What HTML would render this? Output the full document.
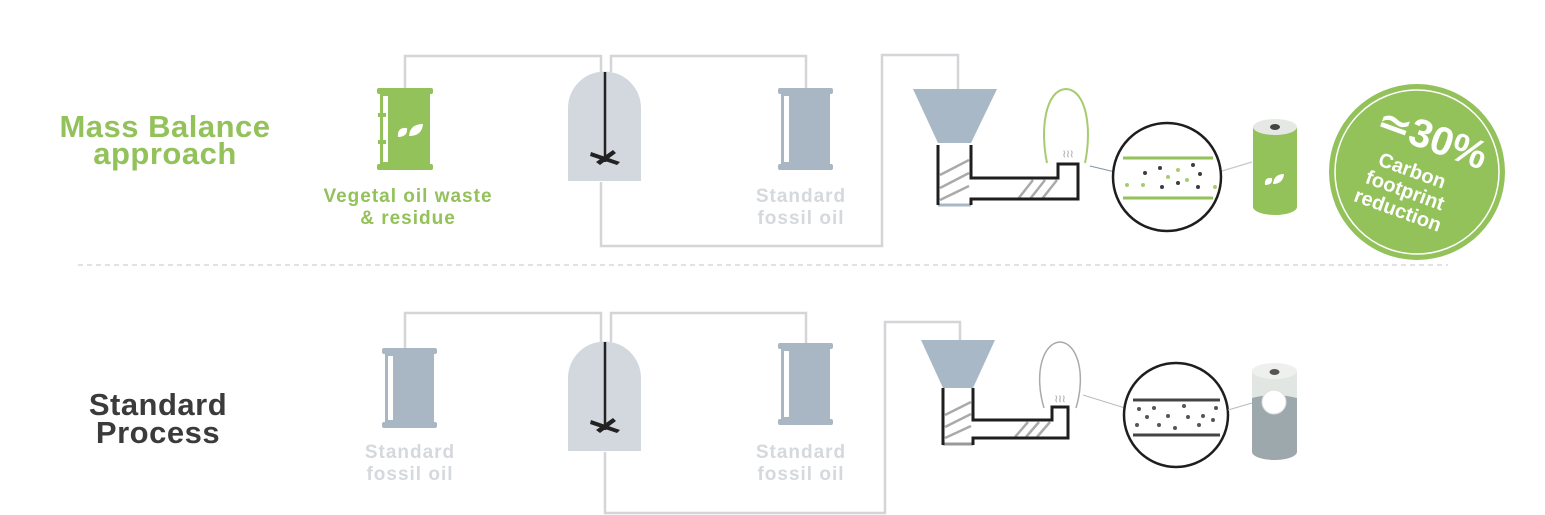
<!DOCTYPE html>
<html><head><meta charset="utf-8"><style>
html,body{margin:0;padding:0;background:#fff}
svg{display:block}
text{font-family:"Liberation Sans",sans-serif;font-weight:bold}
</style></head><body>
<svg width="1545" height="515" viewBox="0 0 1545 515" xmlns="http://www.w3.org/2000/svg">
<!-- titles -->
<g font-size="31" letter-spacing="0.5" text-anchor="middle">
<text x="165" y="137" fill="#93c15a">Mass Balance</text>
<text x="165" y="164" fill="#93c15a">approach</text>
<text x="158" y="415" fill="#3b3b3b">Standard</text>
<text x="158" y="443" fill="#3b3b3b">Process</text>
</g>

<line x1="78" y1="265" x2="1448" y2="265" stroke="#d6d9dc" stroke-width="1.5" stroke-dasharray="5,4"/>

<g fill="none" stroke="#d3d5d8" stroke-width="2.5">
<polyline points="405,88 405,56 601,56 601,72"/>
<polyline points="611,72 611,56 806,56 806,88"/>
<polyline points="601,182 601,246 882,246 882,55 958,55 958,90"/>
<polyline points="405,348 405,313 601,313 601,342"/>
<polyline points="611,342 611,313 806,313 806,343"/>
<polyline points="605,452 605,513 885,513 885,322 960,322 960,340"/>
</g>

<!-- barrels -->
<rect x="377" y="88" width="56" height="6" rx="2" fill="#93c15a"/>
<rect x="377" y="164" width="56" height="6" rx="2" fill="#93c15a"/>
<rect x="380" y="92" width="50" height="74" fill="#93c15a"/>
<rect x="383" y="96" width="5" height="66" fill="#fff"/>
<rect x="378" y="113" width="8" height="4" fill="#93c15a"/>
<rect x="378" y="140" width="8" height="4" fill="#93c15a"/>
<path d="M398 137 q-1 -10 9 -9 q1 9 -9 9z M409 136 q1 -12 14 -12 q-1 12 -14 12z" fill="#fff"/>

<g fill="#a9b6c4">
<rect x="778" y="88" width="55" height="6" rx="2"/><rect x="778" y="164" width="55" height="6" rx="2"/>
<rect x="781" y="92" width="49" height="74"/>
<rect x="382" y="348" width="55" height="6" rx="2"/><rect x="382" y="422" width="55" height="6" rx="2"/>
<rect x="385" y="352" width="49" height="72"/>
<rect x="778" y="343" width="55" height="6" rx="2"/><rect x="778" y="419" width="55" height="6" rx="2"/>
<rect x="781" y="347" width="49" height="74"/>
</g>
<g fill="#fff">
<rect x="784" y="96" width="5" height="66"/><rect x="388" y="356" width="5" height="64"/><rect x="784" y="351" width="5" height="66"/>
</g>

<!-- labels -->
<g font-size="19" letter-spacing="1" text-anchor="middle">
<text x="408" y="202" fill="#93c15a">Vegetal oil waste</text>
<text x="408" y="224" fill="#93c15a">&amp; residue</text>
<text x="801" y="202" fill="#d5d8dc">Standard</text>
<text x="801" y="224" fill="#d5d8dc">fossil oil</text>
<text x="410" y="458" fill="#d5d8dc">Standard</text>
<text x="410" y="480" fill="#d5d8dc">fossil oil</text>
<text x="801" y="458" fill="#d5d8dc">Standard</text>
<text x="801" y="480" fill="#d5d8dc">fossil oil</text>
</g>

<!-- reactors -->
<path d="M568 181 V108 A36.5 36.5 0 0 1 641 108 V181Z" fill="#d3d8df"/>
<line x1="605" y1="72" x2="605" y2="162" stroke="#222" stroke-width="2.5"/>
<path d="M591 152 L620 162 L617 165 L590 156Z M596 162 L613 150 L616 153 L600 165Z" fill="#222"/>
<path d="M568 451 V378 A36.5 36.5 0 0 1 641 378 V451Z" fill="#d3d8df"/>
<line x1="605" y1="342" x2="605" y2="430" stroke="#222" stroke-width="2.5"/>
<path d="M591 420 L620 430 L617 433 L590 424Z M596 430 L613 418 L616 421 L600 433Z" fill="#222"/>

<!-- top extruder -->
<path d="M913 89 H997 L971 143 H938Z" fill="#a9b8c6"/>
<g stroke="#aaa" stroke-width="2.5">
<line x1="940" y1="175" x2="969" y2="160"/><line x1="940" y1="188" x2="969" y2="173"/><line x1="940" y1="200" x2="969" y2="186"/>
<line x1="1018" y1="199" x2="1033" y2="180"/><line x1="1030" y1="199" x2="1045" y2="180"/><line x1="1042" y1="199" x2="1057" y2="180"/>
</g>
<line x1="938" y1="205" x2="971" y2="205" stroke="#a9b8c6" stroke-width="3"/>
<path d="M938 145 V205 M971 145 V178 H1058 V164 H1078 V199 H971 V205" fill="none" stroke="#1e1e1e" stroke-width="3"/>
<path d="M1047 163 C1040 130 1045 90 1066 89 C1087 90 1092 130 1085 163" fill="none" stroke="#a7cc6f" stroke-width="2"/>
<text x="1068" y="157" font-size="10" fill="#bbb" text-anchor="middle" font-weight="normal">≀≀≀</text>
<line x1="1090" y1="166" x2="1115" y2="172" stroke="#7d93a3" stroke-width="1"/>
<circle cx="1167" cy="177" r="54" fill="#fff" stroke="#1e1e1e" stroke-width="2.5"/>
<line x1="1123" y1="158" x2="1213" y2="158" stroke="#93c15a" stroke-width="3"/>
<line x1="1123" y1="198" x2="1213" y2="198" stroke="#93c15a" stroke-width="3"/>
<g fill="#3a3d44"><circle cx="1145" cy="173" r="2"/><circle cx="1160" cy="168" r="2"/><circle cx="1193" cy="165" r="2"/><circle cx="1200" cy="174" r="2"/><circle cx="1178" cy="183" r="2"/><circle cx="1162" cy="187" r="2"/><circle cx="1198" cy="187" r="2"/></g>
<g fill="#a7cc6f"><circle cx="1127" cy="185" r="2"/><circle cx="1143" cy="185" r="2"/><circle cx="1168" cy="177" r="2"/><circle cx="1178" cy="170" r="2"/><circle cx="1187" cy="180" r="2"/><circle cx="1215" cy="187" r="2"/></g>
<line x1="1222" y1="171" x2="1252" y2="162" stroke="#c5c9cc" stroke-width="1.2"/>
<path d="M1253 127 V207 A22 8 0 0 0 1297 207 V127Z" fill="#93c15a"/>
<ellipse cx="1275" cy="127" rx="22" ry="8" fill="#e6e8e6"/>
<ellipse cx="1275" cy="127" rx="5" ry="3" fill="#444"/>
<path d="M1265 185 q-1 -8 7 -7 q1 7 -7 7z M1273 184 q1 -10 11 -10 q-1 10 -11 10z" fill="#fff"/>

<!-- bottom extruder -->
<path d="M921 340 H995 L973 388 H943Z" fill="#a9b8c6"/>
<g stroke="#aaa" stroke-width="2.5">
<line x1="945" y1="415" x2="971" y2="402"/><line x1="945" y1="427" x2="971" y2="414"/><line x1="945" y1="438" x2="971" y2="426"/>
<line x1="1015" y1="437" x2="1028" y2="422"/><line x1="1026" y1="437" x2="1039" y2="422"/><line x1="1037" y1="437" x2="1050" y2="422"/>
</g>
<line x1="943" y1="444" x2="973" y2="444" stroke="#999" stroke-width="3"/>
<path d="M943 388 V445 M973 388 V420 H1052 V407 H1068 V438 H973 V445" fill="none" stroke="#1e1e1e" stroke-width="3"/>
<path d="M1044 408 C1034 375 1042 343 1060 342 C1078 343 1086 375 1076 408" fill="none" stroke="#aaa" stroke-width="1.5"/>
<text x="1060" y="402" font-size="10" fill="#bbb" text-anchor="middle" font-weight="normal">≀≀≀</text>
<line x1="1083" y1="395" x2="1125" y2="408" stroke="#bbb" stroke-width="1"/>
<circle cx="1176" cy="415" r="52" fill="#fff" stroke="#1e1e1e" stroke-width="2.5"/>
<line x1="1133" y1="400" x2="1220" y2="400" stroke="#444" stroke-width="3"/>
<line x1="1133" y1="435" x2="1220" y2="435" stroke="#444" stroke-width="3"/>
<g fill="#555"><circle cx="1139" cy="409" r="2"/><circle cx="1154" cy="408" r="2"/><circle cx="1184" cy="406" r="2"/><circle cx="1216" cy="408" r="2"/><circle cx="1147" cy="417" r="2"/><circle cx="1168" cy="416" r="2"/><circle cx="1188" cy="417" r="2"/><circle cx="1203" cy="416" r="2"/><circle cx="1213" cy="420" r="2"/><circle cx="1137" cy="425" r="2"/><circle cx="1159" cy="425" r="2"/><circle cx="1175" cy="428" r="2"/><circle cx="1199" cy="425" r="2"/></g>
<line x1="1228" y1="410" x2="1252" y2="403" stroke="#bbb" stroke-width="1"/>
<path d="M1252 371 V452 A22.5 8 0 0 0 1297 452 V371Z" fill="#9ca8ac"/>
<path d="M1252 371 V398 Q1274 392 1297 398 V371Z" fill="#e2e6e2"/>
<ellipse cx="1274.5" cy="371" rx="22.5" ry="8" fill="#eef0ee"/>
<ellipse cx="1274.5" cy="372" rx="5" ry="3" fill="#555"/>
<circle cx="1274" cy="402" r="12" fill="#fff" stroke="#ddd" stroke-width="1"/>

<!-- badge -->
<circle cx="1417" cy="172" r="88" fill="#93c15a"/>
<circle cx="1417" cy="172" r="82" fill="none" stroke="#fff" stroke-width="1.5"/>
<g transform="rotate(20 1417 172)" fill="#fff" text-anchor="middle">
<text x="1420" y="148" font-size="40">≃30%</text>
<text x="1412" y="179" font-size="20">Carbon</text>
<text x="1412" y="200" font-size="20">footprint</text>
<text x="1412" y="221" font-size="20">reduction</text>
</g>
</svg>
</body></html>
